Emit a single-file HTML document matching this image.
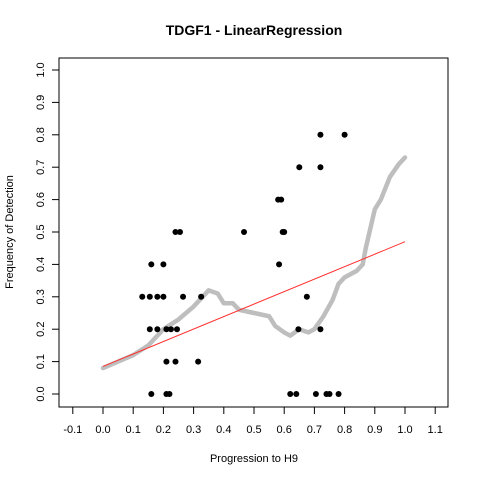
<!DOCTYPE html>
<html><head><meta charset="utf-8"><style>body{margin:0;background:#fff}svg{display:block;font-family:"Liberation Sans",sans-serif}</style></head>
<body>
<svg id="c" width="480" height="480">
<text x="254" y="35" text-anchor="middle" font-size="14" font-weight="bold">TDGF1 - LinearRegression</text>
<rect x="59" y="58" width="389" height="349" fill="none" stroke="#000"/>
<text x="254" y="462" text-anchor="middle" font-size="11">Progression to H9</text>
<text transform="translate(13,232) rotate(-90)" text-anchor="middle" font-size="11">Frequency of Detection</text>
<g id="ax"></g><g id="marks"></g>
</svg>
<script>
const xTicks=[-0.1,0,0.1,0.2,0.3,0.4,0.5,0.6,0.7,0.8,0.9,1.0,1.1];
const yTicks=[0,0.1,0.2,0.3,0.4,0.5,0.6,0.7,0.8,0.9,1.0];
const ptX=[0.72,0.80,0.65,0.72,0.58,0.59,0.24,0.255,0.467,0.595,0.60,0.16,0.2,0.583,0.13,0.155,0.18,0.2,0.265,0.325,0.675,0.155,0.18,0.21,0.225,0.245,0.647,0.72,0.21,0.24,0.315,0.16,0.21,0.22,0.62,0.64,0.705,0.74,0.75,0.78];
const ptY=[0.8,0.8,0.7,0.7,0.6,0.6,0.5,0.5,0.5,0.5,0.5,0.4,0.4,0.4,0.3,0.3,0.3,0.3,0.3,0.3,0.3,0.2,0.2,0.2,0.2,0.2,0.2,0.2,0.1,0.1,0.1,0,0,0,0,0,0,0,0,0];
const smX=[0,0.05,0.1,0.15,0.2,0.25,0.3,0.35,0.38,0.4,0.43,0.45,0.5,0.55,0.57,0.6,0.62,0.65,0.68,0.7,0.73,0.76,0.78,0.8,0.84,0.86,0.87,0.9,0.92,0.95,0.98,1.0];
const smY=[0.08,0.1,0.12,0.15,0.2,0.23,0.27,0.32,0.31,0.28,0.28,0.26,0.25,0.24,0.21,0.19,0.18,0.2,0.19,0.2,0.24,0.29,0.34,0.36,0.38,0.4,0.45,0.57,0.6,0.67,0.71,0.73];
const fitX=[0,1];
const fitY=[0.085,0.47];
const X=v=>103+302*v, Y=v=>394-324*v;
const NS="http://www.w3.org/2000/svg";
const ax=document.getElementById('ax'), mk=document.getElementById('marks');
function el(t,a,p){const e=document.createElementNS(NS,t);for(const k in a)e.setAttribute(k,a[k]);p.appendChild(e);return e;}
xTicks.forEach(v=>{
  const l=el('line',{x1:X(v),x2:X(v),y1:407,y2:414,stroke:'#000'},ax);
  
  
  const t=el('text',{x:X(v),y:433,'text-anchor':'middle','font-size':11},ax);t.textContent=v.toFixed(1);
  
  
});
yTicks.forEach(v=>{
  const l=el('line',{x1:52,x2:59,y1:Y(v),y2:Y(v),stroke:'#000'},ax);
  
  
  const t=el('text',{transform:`translate(44,${Y(v)}) rotate(-90)`,'text-anchor':'middle','font-size':11},ax);t.textContent=v.toFixed(1);
  
  
});
const sm=el('polyline',{points:smX.map((x,i)=>X(x)+','+Y(smY[i])).join(' '),fill:'none',stroke:'#bebebe','stroke-width':4.5,'stroke-linejoin':'round','stroke-linecap':'round'},mk);


const fl=el('line',{x1:X(fitX[0]),y1:Y(fitY[0]),x2:X(fitX[1]),y2:Y(fitY[1]),stroke:'#ff3030','stroke-width':1},mk);


ptX.forEach((x,i)=>{
  const c=el('circle',{cx:X(x),cy:Y(ptY[i]),r:3,fill:'#000'},mk);
  
  
});
</script>
</body></html>
